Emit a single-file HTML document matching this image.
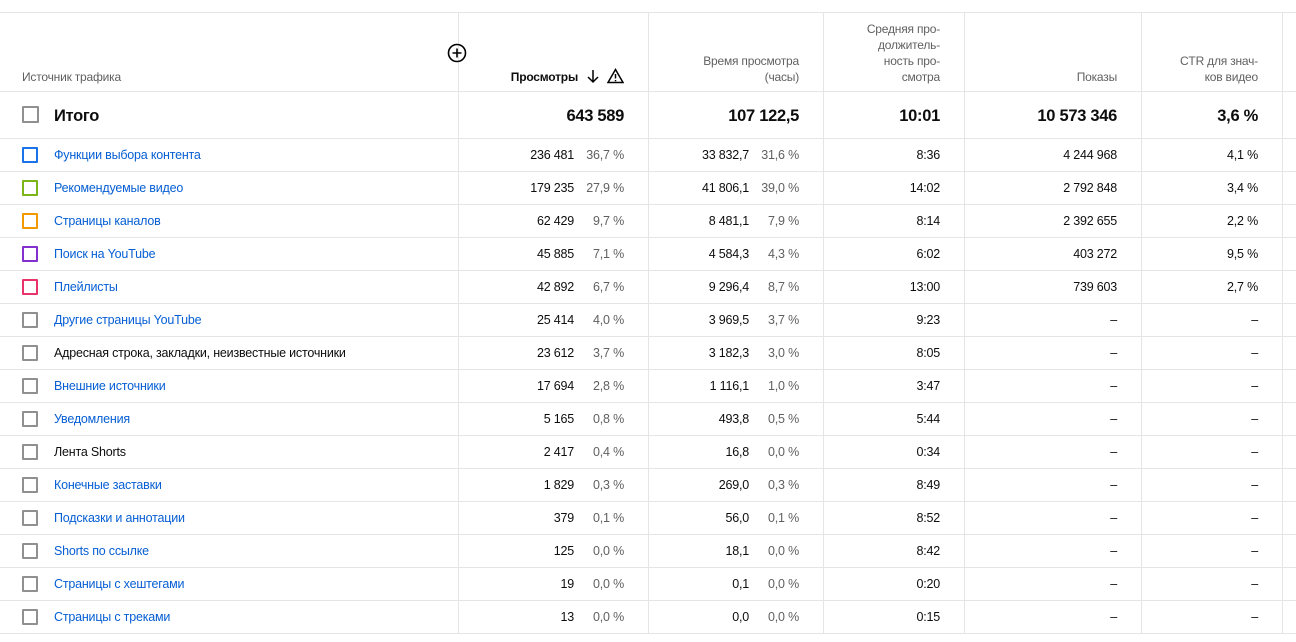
<!DOCTYPE html>
<html><head><meta charset="utf-8"><style>
*{margin:0;padding:0;box-sizing:border-box}
body{width:1296px;height:642px;background:#fff;position:relative;overflow:hidden;font-family:"Liberation Sans",sans-serif;color:#0d0d0d}
.hl{position:absolute;left:0;width:1296px;height:1px;background:#e5e5e5}
.vl{position:absolute;top:12px;height:621px;width:1px;background:#e5e5e5}
.r{position:absolute;left:0;width:1296px;height:33px;font-size:12.5px;letter-spacing:-0.2px}
.r span{position:absolute;top:1px;line-height:33px;white-space:nowrap}
.cb{position:absolute;left:22px;top:9px;width:16px;height:16px;border:2px solid #909090;border-radius:1px}
.n{left:54px;color:#065fd4}
.n.k{color:#0d0d0d}
.p{color:#606060}
.a{right:722px}.b{right:672px}.c{right:547px}.d{right:497px}.e{right:356px}.f{right:179px}.g{right:38px}
.h{position:absolute;font-size:12px;color:#606060;text-align:right;line-height:16px;letter-spacing:-0.2px}
.t{position:absolute;top:93px;height:47px;line-height:47px;font-size:16.5px;font-weight:bold;letter-spacing:-0.3px}
</style></head><body>
<div class="hl" style="top:12px"></div>
<div class="hl" style="top:91px"></div>
<div class="hl" style="top:138px"></div>
<div class="hl" style="top:171px"></div>
<div class="hl" style="top:204px"></div>
<div class="hl" style="top:237px"></div>
<div class="hl" style="top:270px"></div>
<div class="hl" style="top:303px"></div>
<div class="hl" style="top:336px"></div>
<div class="hl" style="top:369px"></div>
<div class="hl" style="top:402px"></div>
<div class="hl" style="top:435px"></div>
<div class="hl" style="top:468px"></div>
<div class="hl" style="top:501px"></div>
<div class="hl" style="top:534px"></div>
<div class="hl" style="top:567px"></div>
<div class="hl" style="top:600px"></div>
<div class="hl" style="top:633px"></div>
<div class="vl" style="left:458px"></div>
<div class="vl" style="left:648px"></div>
<div class="vl" style="left:823px"></div>
<div class="vl" style="left:964px"></div>
<div class="vl" style="left:1141px"></div>
<div class="vl" style="left:1282px"></div>

<div class="h" style="left:22px;top:69px;text-align:left">Источник трафика</div>
<svg style="position:absolute;left:447px;top:43px" width="20" height="20"><circle cx="10" cy="10" r="8.5" fill="none" stroke="#000" stroke-width="1.6"/><path d="M10 5.5v9M5.5 10h9" stroke="#000" stroke-width="1.6"/></svg>
<div class="h" style="right:718px;top:69px;color:#0d0d0d;font-weight:bold">Просмотры</div>
<svg style="position:absolute;left:586px;top:69px" width="14" height="16"><path d="M7 1v12M2 8l5 5 5-5" fill="none" stroke="#000" stroke-width="1.5"/></svg>
<svg style="position:absolute;left:607px;top:68px" width="17" height="16"><path d="M8.5 1.5L16 14.5H1z" fill="none" stroke="#000" stroke-width="1.5"/><path d="M8.5 6v4.5M8.5 12v1.2" stroke="#000" stroke-width="1.5"/></svg>
<div class="h" style="right:497px;top:53px">Время просмотра<br>(часы)</div>
<div class="h" style="right:356px;top:21px">Средняя про-<br>должитель-<br>ность про-<br>смотра</div>
<div class="h" style="right:179px;top:69px">Показы</div>
<div class="h" style="right:38px;top:53px">CTR для знач-<br>ков видео</div>

<div class="cb" style="top:106px;width:17px;height:17px"></div>
<div class="t" style="left:54px">Итого</div>
<div class="t" style="right:672px">643 589</div>
<div class="t" style="right:497px">107 122,5</div>
<div class="t" style="right:356px">10:01</div>
<div class="t" style="right:179px">10 573 346</div>
<div class="t" style="right:38px">3,6 %</div>

<div class="r" style="top:138px"><div class="cb" style="border-color:#1a73e8"></div><span class="n">Функции выбора контента</span><span class="a">236 481</span><span class="b p">36,7 %</span><span class="c">33 832,7</span><span class="d p">31,6 %</span><span class="e">8:36</span><span class="f">4 244 968</span><span class="g">4,1 %</span></div>
<div class="r" style="top:171px"><div class="cb" style="border-color:#7cb518"></div><span class="n">Рекомендуемые видео</span><span class="a">179 235</span><span class="b p">27,9 %</span><span class="c">41 806,1</span><span class="d p">39,0 %</span><span class="e">14:02</span><span class="f">2 792 848</span><span class="g">3,4 %</span></div>
<div class="r" style="top:204px"><div class="cb" style="border-color:#f29900"></div><span class="n">Страницы каналов</span><span class="a">62 429</span><span class="b p">9,7 %</span><span class="c">8 481,1</span><span class="d p">7,9 %</span><span class="e">8:14</span><span class="f">2 392 655</span><span class="g">2,2 %</span></div>
<div class="r" style="top:237px"><div class="cb" style="border-color:#8430ce"></div><span class="n">Поиск на YouTube</span><span class="a">45 885</span><span class="b p">7,1 %</span><span class="c">4 584,3</span><span class="d p">4,3 %</span><span class="e">6:02</span><span class="f">403 272</span><span class="g">9,5 %</span></div>
<div class="r" style="top:270px"><div class="cb" style="border-color:#e8336b"></div><span class="n">Плейлисты</span><span class="a">42 892</span><span class="b p">6,7 %</span><span class="c">9 296,4</span><span class="d p">8,7 %</span><span class="e">13:00</span><span class="f">739 603</span><span class="g">2,7 %</span></div>
<div class="r" style="top:303px"><div class="cb"></div><span class="n">Другие страницы YouTube</span><span class="a">25 414</span><span class="b p">4,0 %</span><span class="c">3 969,5</span><span class="d p">3,7 %</span><span class="e">9:23</span><span class="f">–</span><span class="g">–</span></div>
<div class="r" style="top:336px"><div class="cb"></div><span class="n k">Адресная строка, закладки, неизвестные источники</span><span class="a">23 612</span><span class="b p">3,7 %</span><span class="c">3 182,3</span><span class="d p">3,0 %</span><span class="e">8:05</span><span class="f">–</span><span class="g">–</span></div>
<div class="r" style="top:369px"><div class="cb"></div><span class="n">Внешние источники</span><span class="a">17 694</span><span class="b p">2,8 %</span><span class="c">1 116,1</span><span class="d p">1,0 %</span><span class="e">3:47</span><span class="f">–</span><span class="g">–</span></div>
<div class="r" style="top:402px"><div class="cb"></div><span class="n">Уведомления</span><span class="a">5 165</span><span class="b p">0,8 %</span><span class="c">493,8</span><span class="d p">0,5 %</span><span class="e">5:44</span><span class="f">–</span><span class="g">–</span></div>
<div class="r" style="top:435px"><div class="cb"></div><span class="n k">Лента Shorts</span><span class="a">2 417</span><span class="b p">0,4 %</span><span class="c">16,8</span><span class="d p">0,0 %</span><span class="e">0:34</span><span class="f">–</span><span class="g">–</span></div>
<div class="r" style="top:468px"><div class="cb"></div><span class="n">Конечные заставки</span><span class="a">1 829</span><span class="b p">0,3 %</span><span class="c">269,0</span><span class="d p">0,3 %</span><span class="e">8:49</span><span class="f">–</span><span class="g">–</span></div>
<div class="r" style="top:501px"><div class="cb"></div><span class="n">Подсказки и аннотации</span><span class="a">379</span><span class="b p">0,1 %</span><span class="c">56,0</span><span class="d p">0,1 %</span><span class="e">8:52</span><span class="f">–</span><span class="g">–</span></div>
<div class="r" style="top:534px"><div class="cb"></div><span class="n">Shorts по ссылке</span><span class="a">125</span><span class="b p">0,0 %</span><span class="c">18,1</span><span class="d p">0,0 %</span><span class="e">8:42</span><span class="f">–</span><span class="g">–</span></div>
<div class="r" style="top:567px"><div class="cb"></div><span class="n">Страницы с хештегами</span><span class="a">19</span><span class="b p">0,0 %</span><span class="c">0,1</span><span class="d p">0,0 %</span><span class="e">0:20</span><span class="f">–</span><span class="g">–</span></div>
<div class="r" style="top:600px"><div class="cb"></div><span class="n">Страницы с треками</span><span class="a">13</span><span class="b p">0,0 %</span><span class="c">0,0</span><span class="d p">0,0 %</span><span class="e">0:15</span><span class="f">–</span><span class="g">–</span></div>
</body></html>
